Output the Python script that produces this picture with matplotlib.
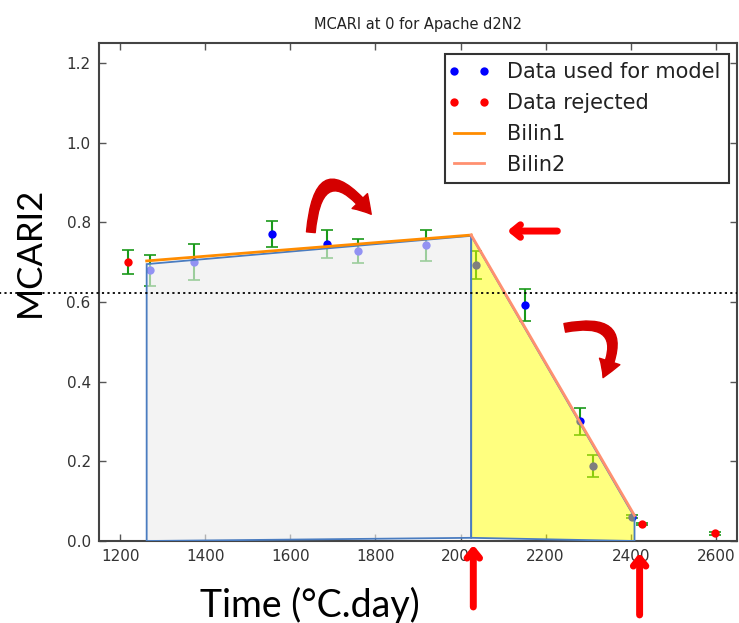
import matplotlib
matplotlib.use("Agg")
import matplotlib.pyplot as plt
from matplotlib.patches import FancyArrowPatch, Polygon
from matplotlib.lines import Line2D
from matplotlib.legend_handler import HandlerLine2D

# ---- data ----
x_used = [1270, 1373, 1556, 1685, 1759, 1918, 2036, 2151, 2280, 2311, 2403]
y_used = [0.680, 0.700, 0.770, 0.745, 0.728, 0.742, 0.692, 0.592, 0.300, 0.188, 0.061]
err_used = [0.039, 0.046, 0.033, 0.035, 0.031, 0.039, 0.035, 0.040, 0.033, 0.028, 0.004]

x_rej = [1219, 2427, 2599]
y_rej = [0.700, 0.043, 0.019]
err_rej = [0.030, 0.003, 0.003]

# bilinear fit (start, break, end)
bilin_x = [1262, 2025, 2409]
bilin_y = [0.695, 0.766, 0.060]
base_y = [0.0, 0.008, 0.0]

threshold = 0.622

title = "MCARI at 0 for Apache d2N2"
xticks = [1200, 1400, 1600, 1800, 2000, 2200, 2400, 2600]
yticks = [0.0, 0.2, 0.4, 0.6, 0.8, 1.0, 1.2]

fig = plt.figure(figsize=(7.39, 6.23), dpi=100)
ax = fig.add_axes([0.134, 0.1316, 0.8633, 0.7994])

# error bars and points
ax.errorbar(x_used, y_used, yerr=err_used, fmt="none", ecolor="#1a9a1a",
            elinewidth=1.5, capsize=4, capthick=1.2, zorder=2)
ax.errorbar(x_rej, y_rej, yerr=err_rej, fmt="none", ecolor="#1a9a1a",
            elinewidth=1.5, capsize=4, capthick=1.2, zorder=2)
ax.plot(x_used, y_used, "o", color="blue", markersize=6, markeredgewidth=0,
        zorder=3, label="Data used for model")
ax.plot(x_rej, y_rej, "o", color="red", markersize=6, markeredgewidth=0,
        zorder=3, label="Data rejected")

# filled areas under each segment
poly1 = [(bilin_x[0], base_y[0]), (bilin_x[0], bilin_y[0]),
         (bilin_x[1], bilin_y[1]), (bilin_x[1], base_y[1])]
poly2 = [(bilin_x[1], base_y[1]), (bilin_x[1], bilin_y[1]),
         (bilin_x[2], bilin_y[2]), (bilin_x[2], base_y[2])]
ax.add_patch(Polygon(poly1, closed=True, facecolor=(0.93, 0.93, 0.93, 0.62),
                     edgecolor="#4a7cc0", linewidth=1.3, zorder=4))
ax.add_patch(Polygon(poly2, closed=True, facecolor=(1.0, 1.0, 0.0, 0.5),
                     edgecolor="#4a7cc0", linewidth=1.3, zorder=4))

# bilinear model lines
ax.plot(bilin_x[:2], [bilin_y[0] + 0.008, bilin_y[1] + 0.002], color="#ff8c00",
        linewidth=2, zorder=5, label="Bilin1")
ax.plot(bilin_x[1:], [bilin_y[1] + 0.002, bilin_y[2] + 0.004], color="#ff9070",
        linewidth=2, zorder=5, label="Bilin2")

# dotted threshold line extending left of the axes
ax.plot([-0.16, 1.0], [threshold, threshold], transform=ax.get_yaxis_transform(),
        linestyle=(0, (1.2, 1.8)), color="black", linewidth=1.3, clip_on=False,
        zorder=6)

ax.set_xlim(1150, 2650)
ax.set_ylim(0, 1.25)
ax.set_xticks(xticks)
ax.set_yticks(yticks)
ax.set_yticklabels([f"{v:.1f}" for v in yticks])
ax.tick_params(direction="in", top=True, right=True, length=5, width=1,
               labelsize=11, labelcolor="#333333", colors="#555555", pad=6)
for s in ax.spines.values():
    s.set_color("#444444")
    s.set_linewidth(1.5)

ax.set_title(title, fontsize=10.5, color="#222222", pad=10)

leg = ax.legend(loc="upper right", bbox_to_anchor=(0.9875, 0.978), numpoints=2,
                fontsize=15, handlelength=1.55, handletextpad=1.05,
                labelspacing=0.52, borderpad=0.4, borderaxespad=0,
                fancybox=False, framealpha=1,
                handler_map={Line2D: HandlerLine2D(marker_pad=0.05)})
leg.get_frame().set_edgecolor("#333333")
leg.get_frame().set_linewidth(1.5)
for t in leg.get_texts():
    t.set_color("#222222")

# big axis labels (added in an editor, Calibri-like font)
fig.text(0.040, 0.595, "MCARI2", rotation=90, fontsize=25, family="Lato",
         ha="center", va="center", color="black")
fig.text(0.419, 0.028, "Time (°C.day)", fontsize=27, family="Lato",
         ha="center", va="center", color="black")

red = "#ff0000"
# straight arrows
def straight(xy, off):
    ax.annotate("", xy=xy, xycoords="data", xytext=off, textcoords="offset pixels",
                arrowprops=dict(arrowstyle="->,head_length=0.55,head_width=0.45",
                                color=red, linewidth=5, shrinkA=0, shrinkB=0),
                annotation_clip=False, zorder=10)

straight((bilin_x[1] + 5, -0.01), (0, -62))
straight((bilin_x[2] + 12, -0.03), (0, -62))
straight((bilin_x[1] + 85, 0.778), (50, 0))

# curved arrows
def curved(p0, p1, rad):
    a = FancyArrowPatch(p0, p1, transform=ax.transData,
                        connectionstyle=f"arc3,rad={rad}",
                        arrowstyle="simple,head_length=0.9,head_width=1.1,tail_width=0.45",
                        mutation_scale=14, color="#d40000", clip_on=False, zorder=10,
                        shrinkA=0, shrinkB=0)
    ax.add_patch(a)

curved((1648, 0.775), (1790, 0.82), -1.25)
curved((2245, 0.535), (2335, 0.41), -1.0)

fig.savefig("out.png", dpi=100)
